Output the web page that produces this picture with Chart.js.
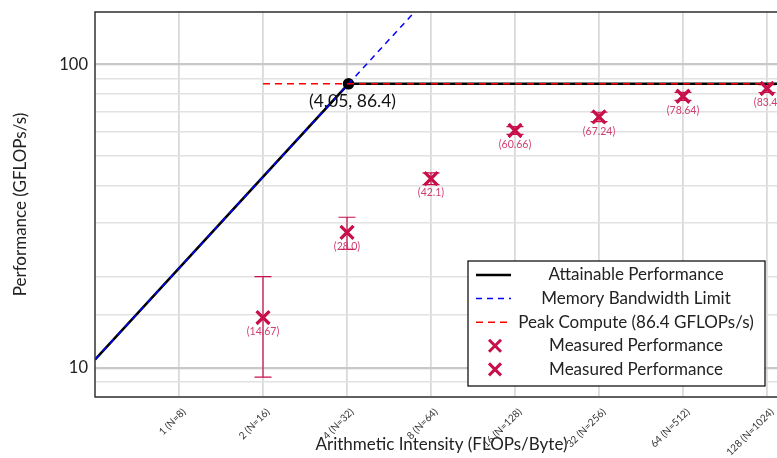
<!DOCTYPE html>
<html>
<head>
<meta charset="utf-8">
<script src="https://cdn.jsdelivr.net/npm/chart.js@4/dist/chart.umd.min.js"></script>
<style>
html, body { margin: 0; padding: 0; background: #fff; overflow: hidden; }
#wrap { width: 800px; height: 458px; }
</style>
</head>
<body>
<div id="wrap"><canvas id="myChart" width="800" height="458"></canvas></div>
<script>
// values
var intensity = [1, 2, 4, 8, 16, 32, 64, 128];
var sizes = [8, 16, 32, 64, 128, 256, 512, 1024];
var measuredX = [2, 4, 8, 16, 32, 64, 128];
var measuredY = [14.67, 28.0, 42.1, 60.66, 67.24, 78.64, 83.4];
var measuredErr = [5.33, 3.4, 1.9, 1.8, 2.4, 2.4, 2.5];
var peak = 86.4;
var ridge = 4.05;
var bandwidth = peak / ridge;

var xMin = 0.5, xMax = 168, yMin = 8.03, yMax = 149;
var pxPerOctave = 84;
var crimson = '#c8104a';
var FONT = 'Lato, "Open Sans", sans-serif';

function fmt(v) { return v % 1 === 0 ? v.toFixed(1) : String(v); }

var measuredPts = measuredX.map(function (x, i) { return { x: x, y: measuredY[i] }; });

var frame = {
    id: 'frame',
    afterDraw: function (chart) {
        var a = chart.chartArea, ctx = chart.ctx;
        ctx.save();
        ctx.strokeStyle = '#333';
        ctx.lineWidth = 1.5;
        ctx.strokeRect(a.left, a.top, a.right - a.left + 10, a.bottom - a.top);
        ctx.restore();
    }
};

var errorBars = {
    id: 'errorBars',
    beforeDatasetsDraw: function (chart) {
        var ctx = chart.ctx, xs = chart.scales.x, ys = chart.scales.y;
        ctx.save();
        ctx.strokeStyle = crimson;
        ctx.lineWidth = 1.2;
        measuredX.forEach(function (x, i) {
            var px = xs.getPixelForValue(x);
            var top = ys.getPixelForValue(measuredY[i] + measuredErr[i]);
            var bot = ys.getPixelForValue(measuredY[i] - measuredErr[i]);
            ctx.beginPath();
            ctx.moveTo(px, top); ctx.lineTo(px, bot);
            ctx.moveTo(px - 8.5, top); ctx.lineTo(px + 8.5, top);
            ctx.moveTo(px - 8.5, bot); ctx.lineTo(px + 8.5, bot);
            ctx.stroke();
        });
        ctx.restore();
    },
    afterDatasetsDraw: function (chart) {
        var ctx = chart.ctx, xs = chart.scales.x, ys = chart.scales.y;
        ctx.save();
        ctx.fillStyle = '#d0406e';
        ctx.font = '10.5px ' + FONT;
        ctx.textAlign = 'center';
        ctx.textBaseline = 'middle';
        measuredX.forEach(function (x, i) {
            ctx.fillText('(' + fmt(measuredY[i]) + ')', xs.getPixelForValue(x), ys.getPixelForValue(measuredY[i]) + 14.5);
        });
        ctx.fillStyle = '#111';
        ctx.font = '17.5px ' + FONT;
        ctx.fillText('(' + ridge + ', ' + peak + ')', xs.getPixelForValue(ridge) + 4, ys.getPixelForValue(peak) + 18);
        ctx.restore();
    }
};

var boxLegend = {
    id: 'boxLegend',
    afterDraw: function (chart) {
        var ctx = chart.ctx;
        var L = 468, T = 261, W = 297, H = 125;
        ctx.save();
        ctx.fillStyle = '#fff';
        ctx.fillRect(L, T, W, H);
        ctx.strokeStyle = '#000';
        ctx.lineWidth = 1.2;
        ctx.strokeRect(L, T, W, H);
        chart.data.datasets.forEach(function (ds, i) {
            var y = T + 14 + i * 23.6;
            if (ds.showLine === false) {
                ctx.strokeStyle = ds.borderColor;
                ctx.lineWidth = 3;
                ctx.beginPath();
                ctx.moveTo(L + 21, y - 6); ctx.lineTo(L + 33, y + 6);
                ctx.moveTo(L + 33, y - 6); ctx.lineTo(L + 21, y + 6);
                ctx.stroke();
            } else {
                ctx.strokeStyle = ds.borderColor;
                ctx.lineWidth = ds.borderWidth;
                ctx.setLineDash(ds.borderDash || []);
                ctx.beginPath();
                ctx.moveTo(L + 8, y); ctx.lineTo(L + 43, y);
                ctx.stroke();
                ctx.setLineDash([]);
            }
            ctx.fillStyle = '#222';
            ctx.font = '17px ' + FONT;
            ctx.textAlign = 'center';
            ctx.textBaseline = 'middle';
            ctx.fillText(ds.label, L + 168, y);
        });
        ctx.restore();
    }
};

var ctx = document.getElementById('myChart').getContext('2d');
var myChart = new Chart(ctx, {
    type: 'scatter',
    data: {
        datasets: [{
            label: 'Attainable Performance',
            data: [{ x: xMin, y: xMin * bandwidth }, { x: ridge, y: peak }, { x: 256, y: peak }],
            showLine: true,
            borderColor: '#000',
            backgroundColor: '#000',
            borderWidth: 2.5,
            pointRadius: function (c) { return c.raw && c.raw.x === ridge ? 4.5 : 0; },
            order: 4
        }, {
            label: 'Memory Bandwidth Limit',
            data: [{ x: xMin, y: xMin * bandwidth }, { x: 8, y: 8 * bandwidth }],
            showLine: true,
            borderColor: '#0000ff',
            borderWidth: 1.5,
            borderDash: [6, 5],
            pointRadius: 0,
            order: 3
        }, {
            label: 'Peak Compute (86.4 GFLOPs/s)',
            data: [{ x: 2, y: peak }, { x: 256, y: peak }],
            showLine: true,
            borderColor: '#ff0000',
            borderWidth: 1.5,
            borderDash: [7, 5],
            pointRadius: 0,
            order: 2
        }, {
            label: 'Measured Performance',
            data: measuredPts,
            showLine: false,
            pointStyle: 'crossRot',
            pointRadius: 9,
            borderWidth: 3,
            borderColor: crimson,
            order: 1
        }, {
            label: 'Measured Performance',
            data: measuredPts,
            showLine: false,
            pointStyle: 'crossRot',
            pointRadius: 9,
            borderWidth: 3,
            borderColor: crimson,
            order: 0
        }]
    },
    options: {
        responsive: false,
        animation: false,
        events: [],
        layout: { padding: { top: 10, left: 0, right: 0, bottom: 0 } },
        plugins: { legend: { display: false }, tooltip: { enabled: false } },
        scales: {
            x: {
                type: 'logarithmic',
                min: xMin,
                max: xMax,
                afterBuildTicks: function (s) {
                    s.ticks = intensity.map(function (v) { return { value: v }; });
                },
                afterFit: function (s) {
                    s.height = 61;
                    s.paddingLeft = 0; s.paddingRight = 0;
                },
                ticks: {
                    autoSkip: false,
                    minRotation: 45,
                    maxRotation: 45,
                    padding: 9,
                    labelOffset: 5,
                    color: '#333',
                    font: { family: FONT, size: 10 },
                    callback: function (v, i) { return intensity[i] + ' (N=' + sizes[i] + ')'; }
                },
                grid: { color: '#dadada', lineWidth: 1.8, drawTicks: false },
                border: { display: false },
                title: {
                    display: true,
                    text: 'Arithmetic Intensity (FLOPs/Byte)',
                    color: '#222',
                    font: { family: FONT, size: 17 },
                    padding: { top: 0, bottom: 3 }
                }
            },
            y: {
                type: 'logarithmic',
                min: yMin,
                max: yMax,
                afterFit: function (s) {
                    s.width = 95;
                    s.paddingTop = 0; s.paddingBottom = 0;
                },
                ticks: {
                    autoSkip: false,
                    padding: 7,
                    color: '#222',
                    font: { family: FONT, size: 16.5 },
                    callback: function (v) { return (v === 10 || v === 100) ? String(v) : ''; }
                },
                grid: {
                    drawTicks: false,
                    color: function (c) { return (c.tick && (c.tick.value === 10 || c.tick.value === 100)) ? '#c8c8c8' : '#e2e2e2'; },
                    lineWidth: function (c) { return (c.tick && (c.tick.value === 10 || c.tick.value === 100)) ? 2.2 : 1.6; }
                },
                border: { display: false },
                title: {
                    display: true,
                    text: 'Performance (GFLOPs/s)',
                    color: '#222',
                    font: { family: FONT, size: 17 },
                    padding: { top: 10, bottom: 0 }
                }
            }
        }
    },
    plugins: [frame, errorBars, boxLegend]
});

// keep one doubling of intensity at a fixed width, whatever the final plot width is
var area = myChart.chartArea;
myChart.options.scales.x.max = xMin * Math.pow(2, (area.right - area.left) / pxPerOctave);
myChart.update();
</script>
</body>
</html>
